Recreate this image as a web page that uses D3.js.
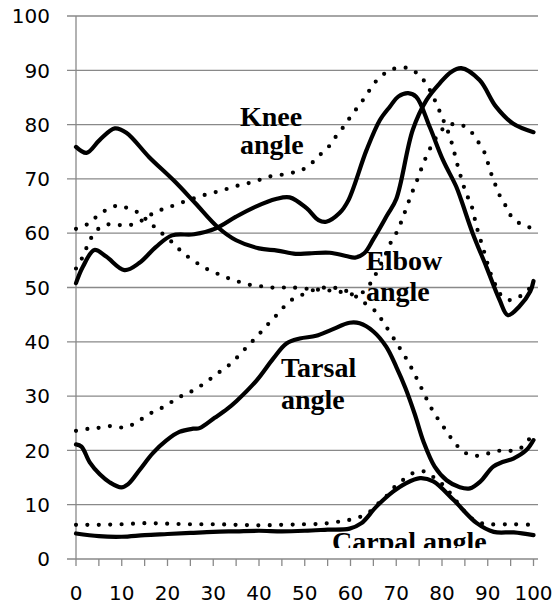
<!DOCTYPE html>
<head>
  <title>Joint angles over the stride</title>
  <style>
    body { margin: 0; background: #fff; }
    .tick-label { font-family: "DejaVu Sans", sans-serif; font-size: 20px; fill: #000; }
    .joint-label { font-family: "Liberation Serif", "Times New Roman", serif; font-size: 28px; font-weight: bold; fill: #000; }
  </style>
</head>

<body>

  <script src="https://cdn.jsdelivr.net/npm/d3@7/dist/d3.min.js"></script>

  <script>

    // tick values
    var xTicksMajor = [0, 10, 20, 30, 40, 50, 60, 70, 80, 90, 100];
    var xTicksMinor = [0, 5, 10, 15, 20, 25, 30, 35, 40, 45, 50, 55, 60, 65, 70, 75, 80, 85, 90, 95, 100];
    var yTicks = [0, 10, 20, 30, 40, 50, 60, 70, 80, 90, 100];

    // series: [percent of stride, angle]
    var elbowSolid = [[0,75.9],[2.3,74.8],[5.2,77.2],[8.5,79.3],[11,78.5],[16,74],[21.5,69.6],[26,65.6],[31,61.1],[35,58.7],[40,57.2],[44,56.8],[48,56.2],[51,56.3],[55.5,56.4],[59,55.8],[61,55.5],[63,56.3],[65,58.9],[68,63.3],[70,66.3],[73.6,79],[76.6,84.5],[79.5,87.6],[82,89.7],[84.2,90.4],[88.2,88.2],[91.8,83.3],[95.5,80.2],[100,78.6]];
    var elbowDotted = [[0,60.8],[2.8,61.8],[4.7,63.2],[6.9,64.4],[9.3,65.1],[11.6,64.5],[14,63.6],[15.6,62.3],[17.8,60.7],[21.7,57.8],[23.4,56.3],[25.5,55.1],[27.7,53.8],[30,52.9],[32.4,52],[34.8,51.3],[37.3,50.6],[39.9,50.3],[42.4,50],[45,50],[47.2,50],[50,49.8],[53,49.6],[56,49.4],[58.5,49.1],[61,48.7],[63,49.3],[64.6,51.1],[65.8,52.9],[67.5,55.8],[69.1,58.8],[70.4,60.6],[71.3,62.6],[72.2,64.6],[73.1,66.7],[74,68.6],[75,70.7],[75.8,72.6],[76.9,74.7],[78,76.6],[79.4,78.4],[80.9,79.7],[83.5,80.1],[85.9,79.1],[87.5,77.3],[89.1,75.2],[89.9,73.3],[90.7,71.1],[91.5,69.3],[92.4,67.3],[93.7,65.4],[94.8,63.5],[96.8,61.9],[99,61.1],[100,61]];
    var kneeSolid = [[0,50.8],[1.5,53.8],[4,56.9],[6.6,55.7],[10.6,53.2],[13.8,54.5],[17.5,57.5],[21,59.6],[25.8,59.8],[30.6,60.9],[34.9,63],[39.3,64.9],[43.7,66.3],[46.7,66.6],[50.4,64.6],[53,62.4],[54.7,62.1],[57.6,63.7],[59.5,66],[63.5,75.3],[66.4,80.8],[68.6,83.3],[70.5,85.2],[72.6,85.8],[74.4,85.1],[77.3,79.6],[80.2,73.5],[83.1,68.6],[84.2,66.1],[86.7,60],[89.7,53.8],[92.6,47.7],[94.4,44.9],[96.9,46.5],[99.3,49.3],[100,51.2]];
    var kneeDotted = [[0,53.5],[1.5,55.7],[2.5,57.7],[3.6,59.5],[5.5,61.2],[8,61.7],[10.6,61.4],[13.1,61.8],[15.3,62.8],[17.5,64],[19.8,64.6],[22.2,65.4],[24.7,66.1],[27.1,66.8],[29.7,67.4],[32,67.9],[34.6,68.6],[37.1,69.1],[39.7,69.7],[42.1,70.4],[44.5,70.7],[47.1,71.1],[49.3,71.6],[51.5,72.9],[53.3,74.4],[55.2,75.9],[56.8,77.8],[58.4,79.5],[59.8,81.2],[61.3,82.9],[62.8,84.6],[64.3,86.5],[65.8,88.2],[67.8,89.6],[70,90.4],[72.6,90.4],[74.6,89.4],[76.4,87.7],[77.7,85.8],[78.8,83.8],[79.8,81.8],[81.7,77.8],[83.8,71.3],[85.3,67.3],[86.4,65.2],[87.6,61.1],[89.1,56.9],[90.5,52.9],[91.5,50.8],[92.6,48.9],[94.6,47.7],[96.9,48.3],[99,49.7],[100,51.2]];
    var tarsalSolid = [[0,21.1],[1.2,20.7],[3,17.8],[5.2,15.6],[7.4,14.1],[9.9,13.2],[11.4,13.8],[13.9,16.4],[16.8,19.5],[19.7,21.8],[22.6,23.4],[25.6,24],[27,24.1],[30.3,26],[33,27.6],[35.1,29.1],[39.5,32.9],[43.1,36.9],[46,39.7],[48.9,40.6],[52.5,41.1],[55.8,42.2],[59.8,43.5],[62,43.4],[65,41.9],[67.8,39.1],[70,35.4],[72,31.5],[74,26.8],[76,21.5],[78.4,17],[81,14.5],[83.9,13.2],[86.1,13],[88.3,14.2],[91.2,17],[93.4,17.9],[95.6,18.5],[98.5,20.1],[100,21.9]];
    var tarsalDotted = [[0,23.6],[2.9,24],[5.4,24.2],[8,24.5],[10.5,24.2],[12.9,25],[15.1,26.2],[17.3,27.3],[19.7,28.2],[22,29.6],[24.2,30.4],[26.3,31.4],[28.5,32.6],[30.6,34],[32.7,35.2],[34.6,36.6],[36.4,38.2],[38.1,39.7],[39.8,41.2],[41.6,42.9],[43.4,44.5],[45.3,46.3],[47.1,47.7],[49.3,48.6],[51.8,49.5],[54.5,50],[57.5,49.8],[60,49],[62.5,47.5],[65.6,45.5],[67.1,43.7],[69.9,40],[72.6,36.3],[74.8,32.7],[77.1,28.7],[78.4,26.7],[79.8,25],[81.3,23.1],[82.8,21.4],[84.6,19.8],[87,19],[89.5,19.3],[92,19.9],[94.3,19.9],[96.8,20.2],[98.6,21.6],[100,23.2]];
    var carpalSolid = [[0,4.7],[5,4.2],[10,4.1],[15,4.4],[20,4.6],[25,4.8],[30,5],[35,5.1],[40,5.2],[45,5.1],[50,5.2],[55,5.4],[59.8,5.6],[62.4,6.6],[65.6,9.6],[69.3,12.4],[72,13.9],[75.2,14.9],[78.1,14.3],[82.5,10.9],[87.6,6.6],[91.3,5],[95.7,4.9],[100,4.4]];
    var carpalDotted = [[0,6.3],[5,6.3],[10,6.4],[15,6.6],[20,6.5],[25,6.4],[30,6.4],[35,6.3],[40,6.2],[45,6.3],[50,6.4],[54,6.5],[57.6,6.9],[59.7,7.2],[62.2,7.8],[64.4,8.8],[66.3,10.4],[68.1,11.8],[69.9,13.5],[71.9,14.8],[73.9,15.9],[76.3,16.1],[78.4,14.9],[80.4,13.5],[82.3,11.6],[84.1,9.6],[86,7.8],[88.1,6.7],[90.5,6.4],[95,6.4],[100,6.3]];

    var solidSeries = [elbowSolid, kneeSolid, tarsalSolid, carpalSolid];
    var dottedSeries = [elbowDotted, kneeDotted, tarsalDotted, carpalDotted];

    // labels placed on the plot
    var jointLabels = [
      { lines: ["Knee", "angle"], x: 240, y: [126, 154] },
      { lines: ["Elbow", "angle"], x: 366, y: [270, 301] },
      { lines: ["Tarsal", "angle"], x: 281, y: [377, 409] },
      { lines: ["Carpal angle"], x: 332, y: [551], clip: true }
    ];

    var w = 559;
    var h = 605;
    var gridColor = "#898989";

    var x = d3.scaleLinear().domain([0, 100]).range([76, 533.5]);
    var y = d3.scaleLinear().domain([0, 100]).range([559, 16]);

    var svg = d3.select("body").append("svg")
        .attr("width", w)
        .attr("height", h);

    svg.append("defs").append("clipPath")
        .attr("id", "carpal-clip")
      .append("rect")
        .attr("x", 0).attr("y", 0)
        .attr("width", w).attr("height", 548);

    // horizontal gridlines (extend left past the axis as tick marks)
    svg.append("g")
      .selectAll("line")
      .data(yTicks)
      .enter()
      .append("line")
        .attr("x1", 67)
        .attr("x2", 538)
        .attr("y1", function(d) { return y(d); })
        .attr("y2", function(d) { return y(d); })
        .attr("stroke", gridColor)
        .attr("stroke-width", 1.3);

    // vertical axis line
    svg.append("line")
        .attr("x1", x(0)).attr("x2", x(0))
        .attr("y1", y(100)).attr("y2", y(0))
        .attr("stroke", gridColor)
        .attr("stroke-width", 1.3);

    // x axis minor ticks
    svg.append("g")
      .selectAll("line")
      .data(xTicksMinor)
      .enter()
      .append("line")
        .attr("x1", function(d) { return x(d); })
        .attr("x2", function(d) { return x(d); })
        .attr("y1", y(0))
        .attr("y2", y(0) + 7)
        .attr("stroke", gridColor)
        .attr("stroke-width", 1.3);

    // y tick labels
    svg.append("g")
      .selectAll("text")
      .data(yTicks)
      .enter()
      .append("text")
        .attr("class", "tick-label")
        .attr("x", 50)
        .attr("y", function(d) { return y(d); })
        .attr("dy", "0.36em")
        .attr("text-anchor", "end")
        .text(function(d) { return d; });

    // x tick labels
    svg.append("g")
      .selectAll("text")
      .data(xTicksMajor)
      .enter()
      .append("text")
        .attr("class", "tick-label")
        .attr("x", function(d) { return x(d); })
        .attr("y", 600)
        .attr("text-anchor", "middle")
        .text(function(d) { return d; });

    var line = d3.line()
        .x(function(d) { return x(d[0]); })
        .y(function(d) { return y(d[1]); })
        .curve(d3.curveCatmullRom.alpha(0.5));

    // dotted series
    svg.append("g")
      .selectAll("path")
      .data(dottedSeries)
      .enter()
      .append("path")
        .attr("d", line)
        .attr("fill", "none")
        .attr("stroke", "#000")
        .attr("stroke-width", 4.2)
        .attr("stroke-linecap", "round")
        .attr("stroke-dasharray", "0 11.4");

    // solid series
    svg.append("g")
      .selectAll("path")
      .data(solidSeries)
      .enter()
      .append("path")
        .attr("d", line)
        .attr("fill", "none")
        .attr("stroke", "#000")
        .attr("stroke-width", 4.2)
        .attr("stroke-linejoin", "round")
        .attr("stroke-linecap", "round");

    // joint labels
    jointLabels.forEach(function(lab) {
      var g = svg.append("g");
      if (lab.clip) g.attr("clip-path", "url(#carpal-clip)");
      lab.lines.forEach(function(t, i) {
        g.append("text")
          .attr("class", "joint-label")
          .attr("x", lab.x)
          .attr("y", lab.y[i])
          .text(t);
      });
    });

  </script>

</body>
